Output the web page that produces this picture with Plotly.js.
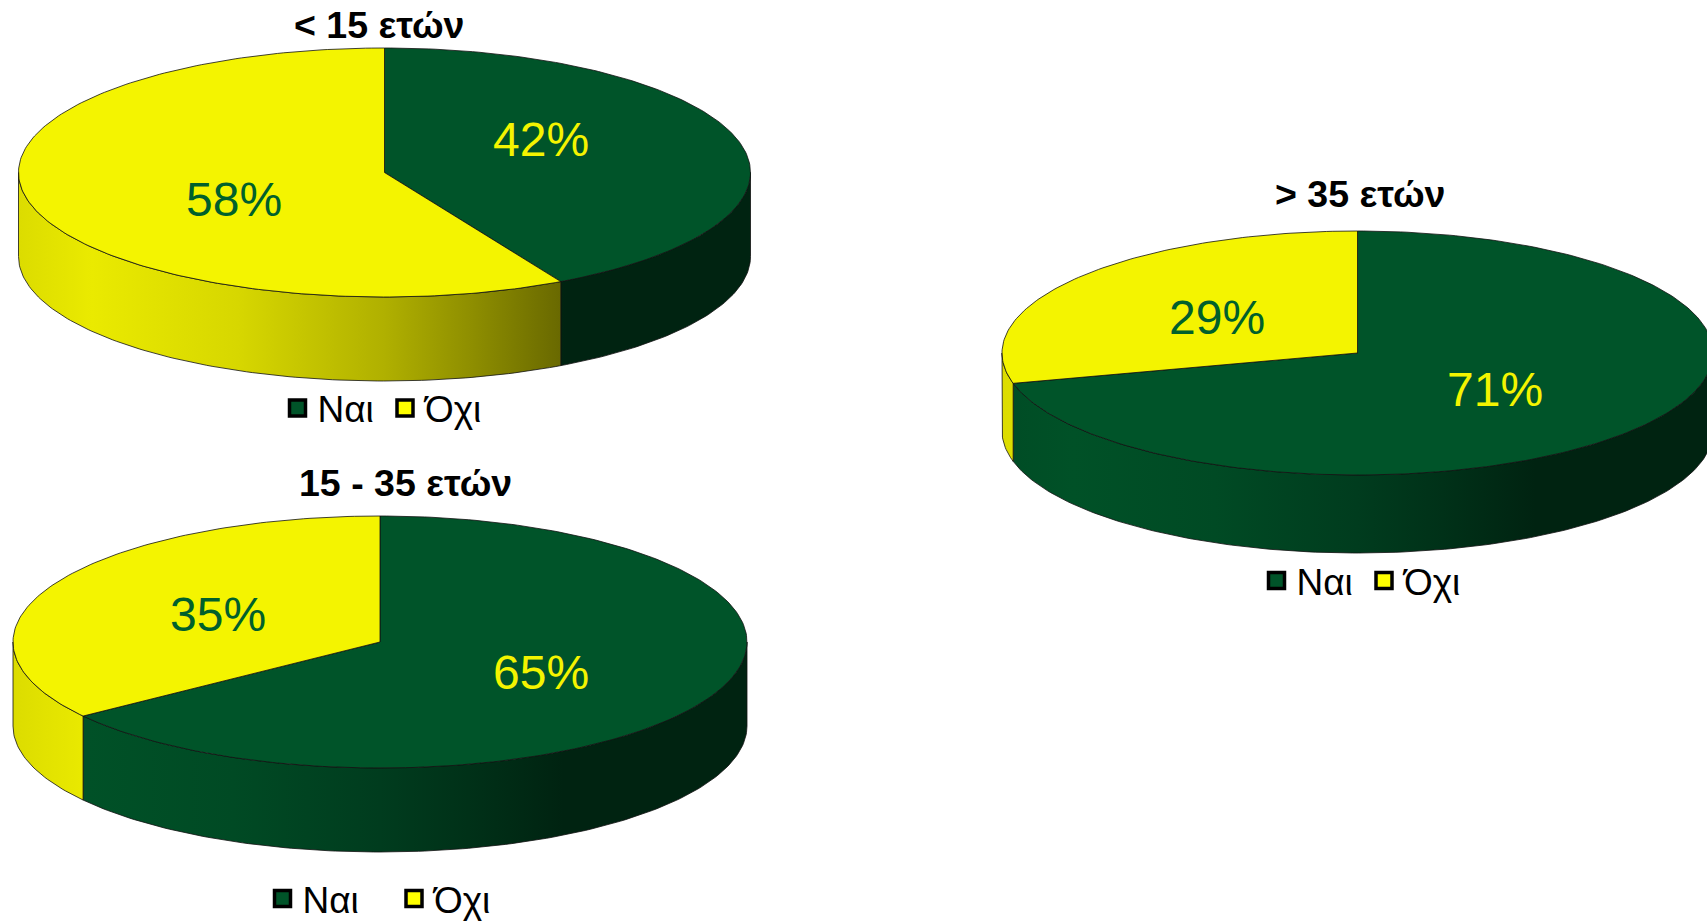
<!DOCTYPE html>
<html>
<head>
<meta charset="utf-8">
<script src="https://cdn.plot.ly/plotly-3.0.1.min.js"></script>
<style>html,body{margin:0;padding:0;background:#fff;overflow:hidden}#chart{width:1707px;height:923px}</style>
</head>
<body>
<div id="chart"></div>
<script>
// Survey answers by age group
const ageGroups = ['< 15 ετών', '15 - 35 ετών', '> 35 ετών'];
const answers = ['Ναι', 'Όχι'];
const yesShare = [42, 65, 71];
const noShare = [58, 35, 29];

// Page layout of each disc, in pixels
const discs = [
  {cx: 384.5, cy: 172.5, rx: 366, ry: 124.5, depth: 84,
   title: [379, 25], yesLabel: [541, 139], noLabel: [234, 199],
   legendX: 277.5, legendY: 408.5, entry: 102.5},
  {cx: 380, cy: 642, rx: 367, ry: 126, depth: 84,
   title: [405, 483], yesLabel: [541, 672], noLabel: [218, 614],
   legendX: 262.5, legendY: 899, entry: 126.5},
  {cx: 1357.5, cy: 353, rx: 355.5, ry: 122, depth: 78,
   title: [1360, 194], yesLabel: [1495, 389], noLabel: [1217, 317],
   legendX: 1256.5, legendY: 581, entry: 102.5}
];

const W = 1707, H = 923;
const FONT = 'Liberation Sans, Arial, sans-serif';
const GREEN = [0, 84, 41];
const YELLOW = [244, 244, 0];
// Side-wall lighting across the width of a disc
const lighting = [[0, 0.90], [0.1, 0.96], [0.3, 0.88], [0.5, 0.72], [0.62, 0.58], [0.75, 0.42], [1, 0.42]];

const rgb = (c, f) => `rgb(${c.map(v => Math.round(v * f)).join(',')})`;

function arc(d, from, to, dy) {
  const xs = [], ys = [];
  const n = Math.max(2, Math.ceil(Math.abs(to - from)));
  for (let i = 0; i <= n; i++) {
    const t = (from + (to - from) * i / n) * Math.PI / 180;
    xs.push(d.cx + d.rx * Math.sin(t));
    ys.push(d.cy - d.ry * Math.cos(t) + dy);
  }
  return [xs, ys];
}

const annotations = [], legends = {};
const walls = [], tops = [], keys = [];

discs.forEach((d, i) => {
  const split = yesShare[i] / (yesShare[i] + noShare[i]) * 360;
  const slices = [[0, split, GREEN, answers[0]], [split, 360, YELLOW, answers[1]]];
  const legendId = i === 0 ? 'legend' : 'legend' + (i + 1);

  slices.forEach(([a, b, color, name]) => {
    // Front wall: only the part of the slice facing the viewer
    const from = Math.max(a, 90), to = Math.min(b, 270);
    if (to > from) {
      const [x1, y1] = arc(d, from, to, 0);
      const [x2, y2] = arc(d, to, from, d.depth);
      walls.push({
        type: 'scatter', mode: 'lines', hoverinfo: 'skip', showlegend: false,
        x: x1.concat(x2, [x1[0]]), y: y1.concat(y2, [y1[0]]),
        fill: 'toself',
        fillgradient: {
          type: 'horizontal', start: d.cx - d.rx, stop: d.cx + d.rx,
          colorscale: lighting.map(([p, f]) => [p, rgb(color, f)])
        },
        line: {color: '#111', width: 0.8}
      });
    }
    // Top face
    const [tx, ty] = arc(d, a, b, 0);
    tops.push({
      type: 'scatter', mode: 'lines', hoverinfo: 'skip', showlegend: false,
      x: [d.cx].concat(tx, [d.cx]), y: [d.cy].concat(ty, [d.cy]),
      fill: 'toself', fillcolor: rgb(color, 1),
      line: {color: '#111', width: 0.8}
    });
    // Legend entry
    keys.push({
      type: 'scatter', mode: 'markers', name, legend: legendId,
      x: [null], y: [null],
      marker: {symbol: 'square', size: 16, color: color === GREEN ? '#005429' : '#ffff00',
               line: {color: '#000', width: 3.5}}
    });
  });

  legends[legendId] = {
    x: d.legendX / W, y: 1 - d.legendY / H, xanchor: 'left', yanchor: 'middle',
    orientation: 'h', bgcolor: 'rgba(0,0,0,0)', borderwidth: 0,
    entrywidthmode: 'pixels', entrywidth: d.entry - 40, itemwidth: 30,
    font: {family: FONT, size: 37, color: '#000'}
  };

  annotations.push({
    text: '<b>' + ageGroups[i] + '</b>', xref: 'x', yref: 'y', x: d.title[0], y: d.title[1],
    showarrow: false, font: {family: FONT, size: 37.5, color: '#000'}
  });
  annotations.push({
    text: yesShare[i] + '%', xref: 'x', yref: 'y', x: d.yesLabel[0], y: d.yesLabel[1],
    showarrow: false, font: {family: FONT, size: 48, color: '#f4f400'}
  });
  annotations.push({
    text: noShare[i] + '%', xref: 'x', yref: 'y', x: d.noLabel[0], y: d.noLabel[1],
    showarrow: false, font: {family: FONT, size: 48, color: '#00602c'}
  });
});

const layout = {
  width: W, height: H, margin: {l: 0, r: 0, t: 0, b: 0, autoexpand: false},
  paper_bgcolor: '#fff', plot_bgcolor: '#fff',
  xaxis: {range: [0, W], visible: false, fixedrange: true},
  yaxis: {range: [H, 0], visible: false, fixedrange: true},
  annotations,
  ...legends
};

Plotly.newPlot('chart', walls.concat(tops, keys), layout, {displayModeBar: false, staticPlot: true});
</script>
</body>
</html>
